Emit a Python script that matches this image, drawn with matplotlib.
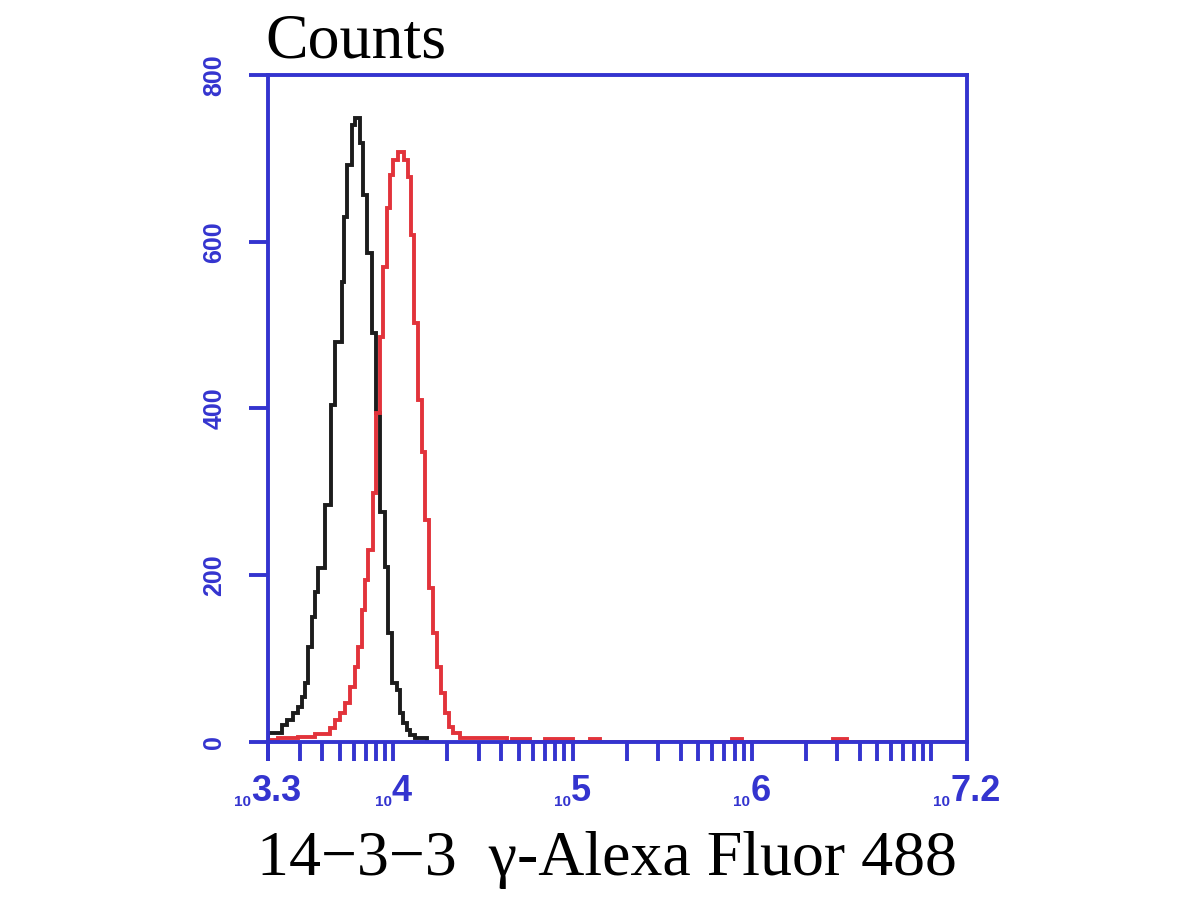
import numpy as np
import matplotlib.pyplot as plt
from matplotlib.offsetbox import TextArea, HPacker, AnnotationBbox
from matplotlib.ticker import FixedLocator, NullFormatter

# histogram bin edges (log10 of intensity) and counts
black_edges_log = [3.300, 3.378, 3.406, 3.440, 3.467, 3.490, 3.506, 3.523, 3.546, 3.562,
                   3.579, 3.618, 3.652, 3.674, 3.713, 3.724, 3.741, 3.769, 3.786, 3.813,
                   3.830, 3.852, 3.880, 3.903, 3.925, 3.953, 3.970, 3.992, 4.020, 4.037,
                   4.053, 4.076, 4.092, 4.120, 4.187]
black_counts = [11, 20, 26, 35, 42, 54, 71, 114, 150, 180,
                209, 284, 404, 480, 552, 630, 692, 740, 748, 718,
                656, 587, 491, 395, 276, 210, 131, 71, 62, 35,
                23, 14, 8, 5]

red_edges_log = [3.300, 3.356, 3.467, 3.562, 3.646, 3.674, 3.702, 3.730, 3.758, 3.786,
                 3.802, 3.825, 3.841, 3.858, 3.886, 3.903, 3.925, 3.942, 3.964, 3.981,
                 3.998, 4.025, 4.059, 4.081, 4.098, 4.115, 4.137, 4.159, 4.176, 4.198,
                 4.221, 4.243, 4.265, 4.288, 4.310, 4.332, 4.371, 4.483, 4.634, 4.662,
                 4.762, 4.846, 5.002, 5.097, 5.153, 5.889, 5.945, 6.453, 6.531, 7.2]
red_counts = [2, 5, 6, 10, 17, 26, 35, 47, 66, 90,
              114, 158, 194, 230, 299, 395, 486, 570, 640, 680,
              698, 708, 698, 678, 608, 503, 410, 348, 266, 185,
              131, 90, 59, 35, 18, 11, 5, 5, 0, 4,
              0, 4, 0, 4, 0, 4, 0, 4, 0]

y_ticks = [0, 200, 400, 600, 800]
x_label_exps = ["3.3", "4", "5", "6", "7.2"]
x_min_log, x_max_log = 3.3, 7.2

blue = '#3434cf'
serif = ['Liberation Serif', 'DejaVu Serif']
sans = ['Liberation Sans', 'DejaVu Sans']

fig = plt.figure(figsize=(12, 9), dpi=100)
ax = fig.add_axes([268/1200, 1 - 742/900, (967-268)/1200, (742-75)/900])

ax.stairs(black_counts, 10**np.array(black_edges_log), color='#1c1c1c', lw=2.8)
ax.stairs(red_counts, 10**np.array(red_edges_log), color='#e2333b', lw=2.8)

ax.set_xscale('log')
ax.set_xlim(10**x_min_log, 10**x_max_log)
ax.set_ylim(0, 800)

for s in ax.spines.values():
    s.set_color(blue)
    s.set_linewidth(2.8)

# ticks: every 1..9 x 10^k inside the range, plus both ends
ticks = [m * 10.0**k for k in range(3, 8) for m in range(1, 10)]
ticks = [t for t in ticks if 10**x_min_log <= t <= 10**x_max_log]
ticks = [10**x_min_log] + ticks + [10**x_max_log]
ax.xaxis.set_major_locator(FixedLocator(ticks))
ax.xaxis.set_minor_locator(FixedLocator([]))
ax.xaxis.set_major_formatter(NullFormatter())
ax.xaxis.set_minor_formatter(NullFormatter())
ax.tick_params(axis='x', which='both', length=14, width=2.8, color=blue, direction='out')

ax.set_yticks(y_ticks)
ax.set_yticklabels([str(v) for v in y_ticks], rotation=90, va='center',
                   color=blue, fontsize=18, fontweight='bold', family=sans)
ax.tick_params(axis='y', length=14, width=2.8, color=blue, direction='out', pad=16)

for e in x_label_exps:
    box = HPacker(children=[
        TextArea("10", textprops=dict(color=blue, fontsize=11, fontweight='bold', family=sans)),
        TextArea(e, textprops=dict(color=blue, fontsize=26, fontweight='bold', family=sans)),
    ], align="bottom", pad=0, sep=0)
    ab = AnnotationBbox(box, (10**float(e), 0), xycoords=('data', 'axes fraction'),
                        xybox=(0, -23), boxcoords='offset points',
                        box_alignment=(0.5, 1), frameon=False, annotation_clip=False)
    ax.add_artist(ab)

fig.text(265/1200, 1 - 57/900, "Counts", family=serif, fontsize=46, va='baseline', ha='left')
fig.text(607/1200, 1 - 875/900, "14\u22123\u22123  \u03b3-Alexa Fluor 488", family=serif,
         fontsize=46, va='baseline', ha='center')

fig.savefig('out.png', dpi=100)
